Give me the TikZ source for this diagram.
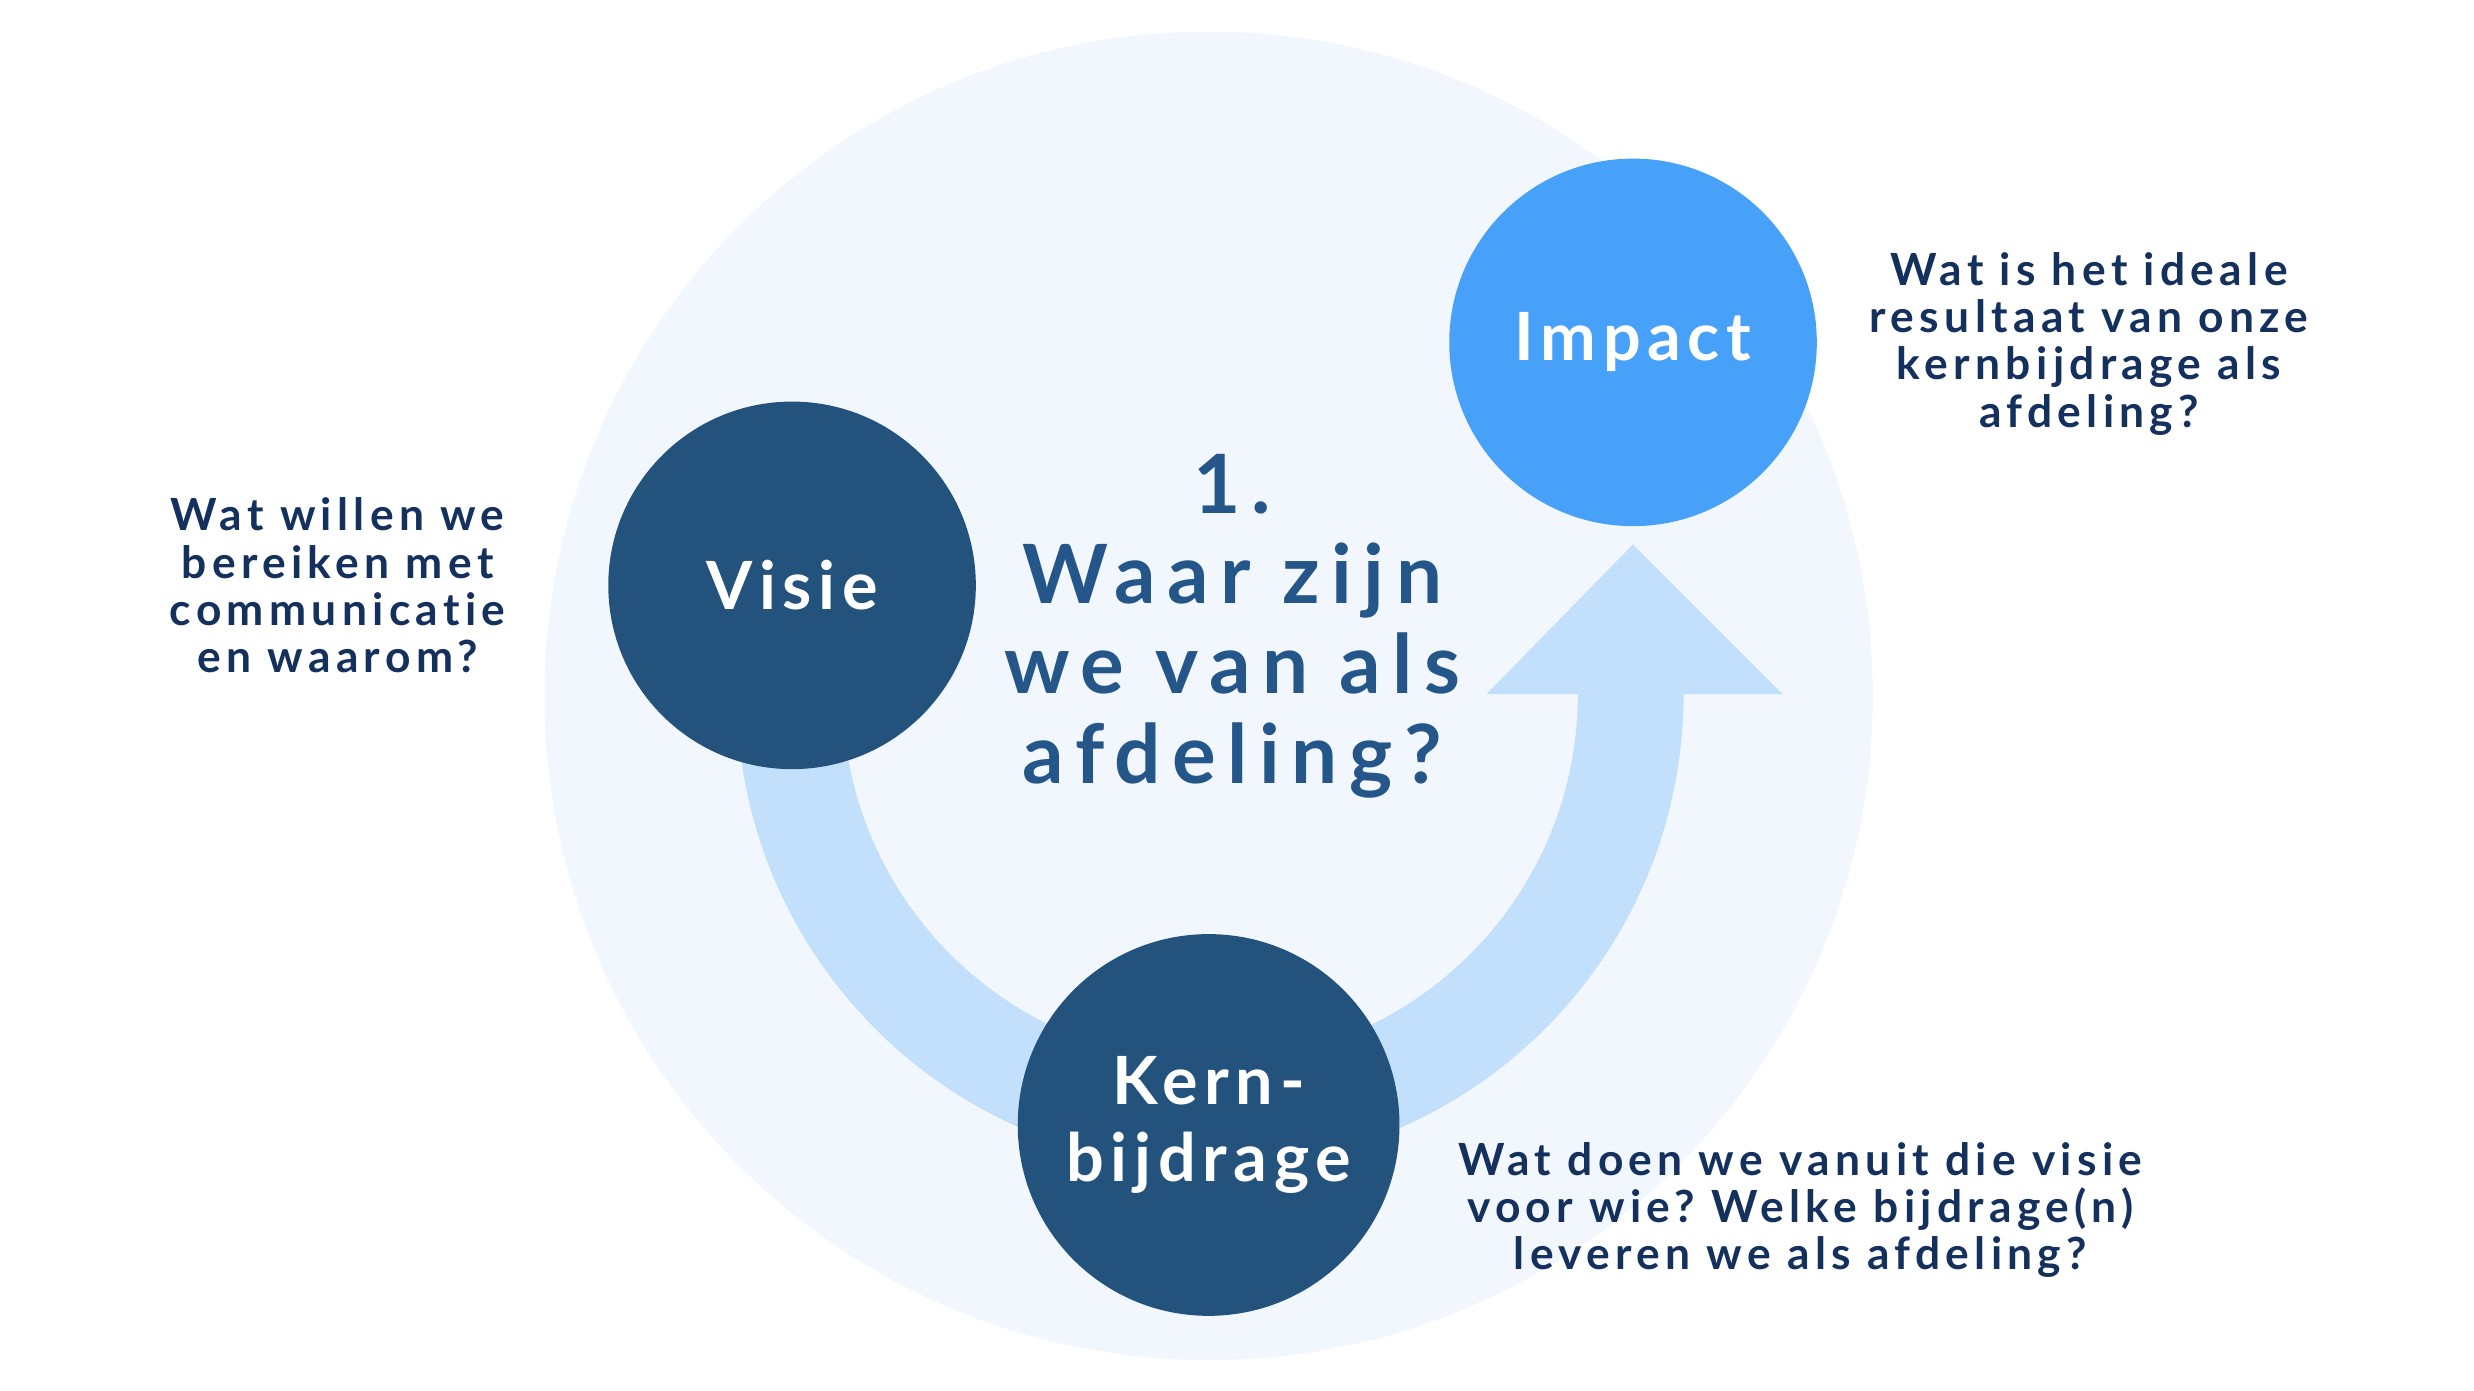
\documentclass[tikz,border=0pt]{standalone}
\usepackage{fontspec}
\setmainfont{Lato}[Ligatures=NoCommon]
\frenchspacing
\usepackage{tikz}
\usetikzlibrary{positioning}
\definecolor{bgblue}{HTML}{F2F7FE}
\definecolor{bandblue}{HTML}{C2DFFC}
\definecolor{darkblue}{HTML}{23527C}
\definecolor{impactblue}{HTML}{47A1F8}
\definecolor{midblue}{HTML}{25568A}
\definecolor{navy}{HTML}{14305C}
\tikzset{
    stage/.style={
    circle,fill=darkblue,text=white,inner sep=0pt,align=center,
    font=\bfseries\addfontfeature{LetterSpace=10}\fontsize{24}{28}\selectfont
    },
    question/.style={
    text=navy,align=center,inner sep=0pt,
    font=\bfseries\addfontfeature{LetterSpace=12}\fontsize{16}{17}\selectfont
    },
    title/.style={
    text=midblue,align=center,inner sep=0pt,
    font=\bfseries\addfontfeature{LetterSpace=14}\fontsize{29.5}{32.4}\selectfont
    },
}

\begin{document}
\begin{tikzpicture}[x=0.02cm, y=-0.02cm]
   \useasboundingbox (0,0) rectangle (1568,881);
   \fill[bgblue] (766,441) circle[radius=421];
   % band with arrow
   \fill[bandblue] (467,440) arc[start angle=180, end angle=0, radius=300]
      -- (1130,440) -- (1035,345) -- (942,440) -- (1000,440)
      arc[start angle=0, end angle=180, radius=233] -- cycle;

   \node[stage, minimum size=4.66cm] (visie) at (502,371) {Visie};
   \node[stage, minimum size=4.66cm, fill=impactblue] (impact) at (1035,217) {Impact};
   \node[stage, minimum size=4.84cm] (kern) at (766,713) {Kern-\\bijdrage};

   \node[title] (vraag) at (781,397) {1.\\Waar zijn\\we van als\\afdeling?};

   \node[question] (qvisie) at (214,371) {Wat willen we\\bereiken met\\communicatie\\en waarom?};
   \node[question] (qimpact) at (1324,218) {Wat is het ideale\\resultaat van onze\\kernbijdrage als\\afdeling?};
   \node[question] (qkern) at (1141,767) {Wat doen we vanuit die visie\\voor wie? Welke bijdrage(n)\\leveren we als afdeling?};
\end{tikzpicture}
\end{document}
